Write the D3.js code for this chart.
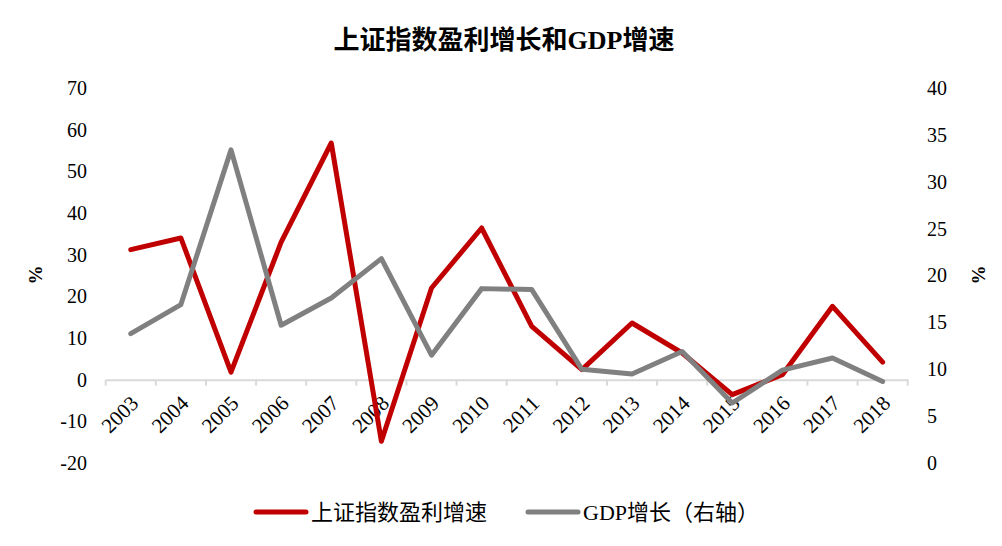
<!DOCTYPE html>
<html lang="zh">
<head>
<meta charset="UTF-8">
<script src="https://d3js.org/d3.v7.min.js"></script>
<title>上证指数盈利增长和GDP增速</title>
<style>
  body { margin: 0; background: #fff; }
  text { font-family: "Liberation Serif", "Noto Sans CJK SC", serif; fill: #000; }
</style>
</head>
<body>
<script>
// data
const years = ["2003","2004","2005","2006","2007","2008","2009","2010","2011","2012","2013","2014","2015","2016","2017","2018"];
const profitGrowth = [31.2, 34.0, 1.8, 33.0, 56.8, -14.8, 22.0, 36.4, 12.8, 2.4, 13.6, 6.4, -3.6, 1.2, 17.6, 4.2];
const gdpGrowth = [13.8, 16.9, 33.4, 14.7, 17.6, 21.8, 11.5, 18.6, 18.5, 10.0, 9.5, 11.9, 6.4, 9.9, 11.2, 8.7];
const leftTicks = [-20, -10, 0, 10, 20, 30, 40, 50, 60, 70];
const rightTicks = [0, 5, 10, 15, 20, 25, 30, 35, 40];

const W = 1002, H = 546;
const svg = d3.select("body").append("svg").attr("width", W).attr("height", H);

const x = d3.scaleBand().domain(years).range([105.7, 907.7]);
const yL = d3.scaleLinear().domain([-20, 70]).range([463, 88]);
const yR = d3.scaleLinear().domain([0, 40]).range([463, 88]);

// title
svg.append("text")
    .attr("x", 504).attr("y", 49)
    .attr("text-anchor", "middle")
    .style("font-size", "26px").style("font-weight", "bold")
    .text("上证指数盈利增长和GDP增速");

// left axis labels
const gl = svg.append("g").attr("transform", "translate(87,0)")
    .call(d3.axisLeft(yL).tickValues(leftTicks).tickSize(0).tickPadding(0).tickFormat(d => String(d)));
gl.select(".domain").remove();
gl.selectAll("text").style("font-size", "20px").style("font-family", "Liberation Serif, serif");

// right axis labels
const gr = svg.append("g").attr("transform", "translate(927,0)")
    .call(d3.axisRight(yR).tickValues(rightTicks).tickSize(0).tickPadding(0).tickFormat(d => String(d)));
gr.select(".domain").remove();
gr.selectAll("text").style("font-size", "20px").style("font-family", "Liberation Serif, serif");

// axis titles
svg.append("text").attr("transform", "translate(42,275) rotate(-90)")
    .attr("text-anchor", "middle").style("font-size", "19px").style("font-weight", "bold").text("%");
svg.append("text").attr("transform", "translate(985,275) rotate(-90)")
    .attr("text-anchor", "middle").style("font-size", "19px").style("font-weight", "bold").text("%");

// x axis at zero
const gx = svg.append("g").attr("transform", "translate(0," + yL(0) + ")")
    .call(d3.axisBottom(x).tickSize(0).tickPadding(0).tickFormat(""));
gx.select(".domain").attr("stroke", "#d9d9d9").attr("stroke-width", 2);
gx.selectAll(".tick").remove();
const bounds = [0].concat(years.map((d, i) => i + 1));
gx.selectAll("line.sep").data(bounds).enter().append("line")
    .attr("class", "sep")
    .attr("x1", i => x.range()[0] + i * x.step()).attr("x2", i => x.range()[0] + i * x.step())
    .attr("y1", 0).attr("y2", 6)
    .attr("stroke", "#d9d9d9").attr("stroke-width", 2);

// x labels
svg.append("g").selectAll("text").data(years).enter().append("text")
    .attr("transform", d => "translate(" + (x(d) + x.bandwidth() / 2 + 9) + "," + (yL(0) + 25) + ") rotate(-45)")
    .attr("text-anchor", "end")
    .style("font-size", "21px")
    .text(d => d);

// lines
const lineL = d3.line().x((d, i) => x(years[i]) + x.bandwidth() / 2).y(d => yL(d));
const lineR = d3.line().x((d, i) => x(years[i]) + x.bandwidth() / 2).y(d => yR(d));

svg.append("path").datum(profitGrowth)
    .attr("d", lineL).attr("fill", "none")
    .attr("stroke", "#c00000").attr("stroke-width", 5)
    .attr("stroke-linejoin", "round").attr("stroke-linecap", "round");

svg.append("path").datum(gdpGrowth)
    .attr("d", lineR).attr("fill", "none")
    .attr("stroke", "#808080").attr("stroke-width", 5)
    .attr("stroke-linejoin", "round").attr("stroke-linecap", "round");

// legend
const legend = [
    { name: "上证指数盈利增速", color: "#c00000", x: 256 },
    { name: "GDP增长（右轴）", color: "#808080", x: 528 }
];
const lg = svg.append("g").selectAll("g").data(legend).enter().append("g")
    .attr("transform", d => "translate(" + d.x + ",512)");
lg.append("line").attr("x1", 0).attr("x2", 50).attr("y1", 0).attr("y2", 0)
    .attr("stroke", d => d.color).attr("stroke-width", 5).attr("stroke-linecap", "round");
lg.append("text").attr("x", 55).attr("y", 8)
    .style("font-size", "22px")
    .text(d => d.name);
</script>
</body>
</html>
